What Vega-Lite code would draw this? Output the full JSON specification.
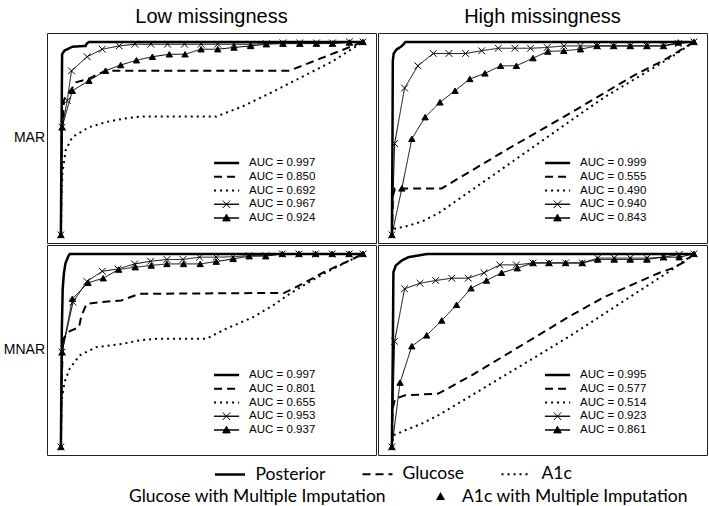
{
"$schema":"https://vega.github.io/schema/vega-lite/v6.json",
"padding":{"left":3,"top":7,"right":0,"bottom":0},
"data":{"values":[
{"c":"L","r":"MAR","s":"P","x":0,"y":0},{"c":"L","r":"MAR","s":"P","x":0.002,"y":0.5},{"c":"L","r":"MAR","s":"P","x":0.004,"y":0.936},{"c":"L","r":"MAR","s":"P","x":0.012,"y":0.955},{"c":"L","r":"MAR","s":"P","x":0.038,"y":0.975},{"c":"L","r":"MAR","s":"P","x":0.082,"y":0.979},{"c":"L","r":"MAR","s":"P","x":0.085,"y":0.99},{"c":"L","r":"MAR","s":"P","x":0.093,"y":1},{"c":"L","r":"MAR","s":"P","x":1,"y":1},
{"c":"L","r":"MAR","s":"G","x":0,"y":0},{"c":"L","r":"MAR","s":"G","x":0.003,"y":0.5},{"c":"L","r":"MAR","s":"G","x":0.01,"y":0.7},{"c":"L","r":"MAR","s":"G","x":0.05,"y":0.79},{"c":"L","r":"MAR","s":"G","x":0.093,"y":0.81},{"c":"L","r":"MAR","s":"G","x":0.148,"y":0.851},{"c":"L","r":"MAR","s":"G","x":0.757,"y":0.851},{"c":"L","r":"MAR","s":"G","x":1,"y":1},
{"c":"L","r":"MAR","s":"A","x":0,"y":0},{"c":"L","r":"MAR","s":"A","x":0.002,"y":0.2},{"c":"L","r":"MAR","s":"A","x":0.005,"y":0.32},{"c":"L","r":"MAR","s":"A","x":0.016,"y":0.44},{"c":"L","r":"MAR","s":"A","x":0.038,"y":0.507},{"c":"L","r":"MAR","s":"A","x":0.093,"y":0.558},{"c":"L","r":"MAR","s":"A","x":0.148,"y":0.584},{"c":"L","r":"MAR","s":"A","x":0.2,"y":0.6},{"c":"L","r":"MAR","s":"A","x":0.26,"y":0.613},{"c":"L","r":"MAR","s":"A","x":0.514,"y":0.613},{"c":"L","r":"MAR","s":"A","x":0.6,"y":0.665},{"c":"L","r":"MAR","s":"A","x":0.7,"y":0.74},{"c":"L","r":"MAR","s":"A","x":0.8,"y":0.82},{"c":"L","r":"MAR","s":"A","x":0.9,"y":0.9},{"c":"L","r":"MAR","s":"A","x":1,"y":1},
{"c":"L","r":"MAR","s":"GMI","x":0,"y":0},{"c":"L","r":"MAR","s":"GMI","x":0.004,"y":0.558},{"c":"L","r":"MAR","s":"GMI","x":0.021,"y":0.696},{"c":"L","r":"MAR","s":"GMI","x":0.035,"y":0.85},{"c":"L","r":"MAR","s":"GMI","x":0.087,"y":0.923},{"c":"L","r":"MAR","s":"GMI","x":0.137,"y":0.962},{"c":"L","r":"MAR","s":"GMI","x":0.193,"y":0.979},{"c":"L","r":"MAR","s":"GMI","x":0.245,"y":0.988},{"c":"L","r":"MAR","s":"GMI","x":0.298,"y":0.988},{"c":"L","r":"MAR","s":"GMI","x":0.353,"y":0.988},{"c":"L","r":"MAR","s":"GMI","x":0.409,"y":0.988},{"c":"L","r":"MAR","s":"GMI","x":0.464,"y":0.988},{"c":"L","r":"MAR","s":"GMI","x":0.519,"y":0.988},{"c":"L","r":"MAR","s":"GMI","x":0.573,"y":0.988},{"c":"L","r":"MAR","s":"GMI","x":0.628,"y":0.988},{"c":"L","r":"MAR","s":"GMI","x":0.68,"y":0.991},{"c":"L","r":"MAR","s":"GMI","x":0.735,"y":0.995},{"c":"L","r":"MAR","s":"GMI","x":0.791,"y":0.995},{"c":"L","r":"MAR","s":"GMI","x":0.846,"y":0.995},{"c":"L","r":"MAR","s":"GMI","x":0.899,"y":0.995},{"c":"L","r":"MAR","s":"GMI","x":0.955,"y":1},{"c":"L","r":"MAR","s":"GMI","x":1,"y":1},
{"c":"L","r":"MAR","s":"AMI","x":0,"y":0},{"c":"L","r":"MAR","s":"AMI","x":0.004,"y":0.558},{"c":"L","r":"MAR","s":"AMI","x":0.038,"y":0.747},{"c":"L","r":"MAR","s":"AMI","x":0.093,"y":0.799},{"c":"L","r":"MAR","s":"AMI","x":0.148,"y":0.851},{"c":"L","r":"MAR","s":"AMI","x":0.198,"y":0.88},{"c":"L","r":"MAR","s":"AMI","x":0.25,"y":0.905},{"c":"L","r":"MAR","s":"AMI","x":0.303,"y":0.923},{"c":"L","r":"MAR","s":"AMI","x":0.359,"y":0.936},{"c":"L","r":"MAR","s":"AMI","x":0.411,"y":0.936},{"c":"L","r":"MAR","s":"AMI","x":0.464,"y":0.962},{"c":"L","r":"MAR","s":"AMI","x":0.519,"y":0.962},{"c":"L","r":"MAR","s":"AMI","x":0.573,"y":0.971},{"c":"L","r":"MAR","s":"AMI","x":0.628,"y":0.979},{"c":"L","r":"MAR","s":"AMI","x":0.68,"y":0.988},{"c":"L","r":"MAR","s":"AMI","x":0.735,"y":0.991},{"c":"L","r":"MAR","s":"AMI","x":0.791,"y":0.991},{"c":"L","r":"MAR","s":"AMI","x":0.846,"y":0.991},{"c":"L","r":"MAR","s":"AMI","x":0.899,"y":0.991},{"c":"L","r":"MAR","s":"AMI","x":0.955,"y":0.997},{"c":"L","r":"MAR","s":"AMI","x":1,"y":1},

{"c":"H","r":"MAR","s":"P","x":0,"y":0},{"c":"H","r":"MAR","s":"P","x":0.002,"y":0.5},{"c":"H","r":"MAR","s":"P","x":0.003,"y":0.9},{"c":"H","r":"MAR","s":"P","x":0.006,"y":0.94},{"c":"H","r":"MAR","s":"P","x":0.015,"y":0.96},{"c":"H","r":"MAR","s":"P","x":0.03,"y":0.975},{"c":"H","r":"MAR","s":"P","x":0.04,"y":0.99},{"c":"H","r":"MAR","s":"P","x":0.045,"y":1},{"c":"H","r":"MAR","s":"P","x":1,"y":1},
{"c":"H","r":"MAR","s":"G","x":0,"y":0},{"c":"H","r":"MAR","s":"G","x":0.002,"y":0.1},{"c":"H","r":"MAR","s":"G","x":0.003,"y":0.2},{"c":"H","r":"MAR","s":"G","x":0.01,"y":0.241},{"c":"H","r":"MAR","s":"G","x":0.165,"y":0.241},{"c":"H","r":"MAR","s":"G","x":0.4,"y":0.46},{"c":"H","r":"MAR","s":"G","x":0.6,"y":0.64},{"c":"H","r":"MAR","s":"G","x":0.8,"y":0.825},{"c":"H","r":"MAR","s":"G","x":0.9,"y":0.905},{"c":"H","r":"MAR","s":"G","x":1,"y":1},
{"c":"H","r":"MAR","s":"A","x":0,"y":0},{"c":"H","r":"MAR","s":"A","x":0.011,"y":0.034},{"c":"H","r":"MAR","s":"A","x":0.044,"y":0.043},{"c":"H","r":"MAR","s":"A","x":0.099,"y":0.069},{"c":"H","r":"MAR","s":"A","x":0.154,"y":0.112},{"c":"H","r":"MAR","s":"A","x":0.264,"y":0.232},{"c":"H","r":"MAR","s":"A","x":0.374,"y":0.352},{"c":"H","r":"MAR","s":"A","x":0.484,"y":0.473},{"c":"H","r":"MAR","s":"A","x":0.593,"y":0.593},{"c":"H","r":"MAR","s":"A","x":0.703,"y":0.713},{"c":"H","r":"MAR","s":"A","x":0.813,"y":0.816},{"c":"H","r":"MAR","s":"A","x":0.923,"y":0.919},{"c":"H","r":"MAR","s":"A","x":1,"y":1},
{"c":"H","r":"MAR","s":"GMI","x":0,"y":0},{"c":"H","r":"MAR","s":"GMI","x":0.009,"y":0.473},{"c":"H","r":"MAR","s":"GMI","x":0.042,"y":0.761},{"c":"H","r":"MAR","s":"GMI","x":0.086,"y":0.876},{"c":"H","r":"MAR","s":"GMI","x":0.137,"y":0.94},{"c":"H","r":"MAR","s":"GMI","x":0.189,"y":0.94},{"c":"H","r":"MAR","s":"GMI","x":0.244,"y":0.94},{"c":"H","r":"MAR","s":"GMI","x":0.297,"y":0.954},{"c":"H","r":"MAR","s":"GMI","x":0.352,"y":0.967},{"c":"H","r":"MAR","s":"GMI","x":0.407,"y":0.967},{"c":"H","r":"MAR","s":"GMI","x":0.459,"y":0.967},{"c":"H","r":"MAR","s":"GMI","x":0.514,"y":0.971},{"c":"H","r":"MAR","s":"GMI","x":0.569,"y":0.979},{"c":"H","r":"MAR","s":"GMI","x":0.624,"y":0.979},{"c":"H","r":"MAR","s":"GMI","x":0.679,"y":0.979},{"c":"H","r":"MAR","s":"GMI","x":0.734,"y":0.979},{"c":"H","r":"MAR","s":"GMI","x":0.789,"y":0.979},{"c":"H","r":"MAR","s":"GMI","x":0.844,"y":0.979},{"c":"H","r":"MAR","s":"GMI","x":0.899,"y":0.979},{"c":"H","r":"MAR","s":"GMI","x":0.948,"y":0.991},{"c":"H","r":"MAR","s":"GMI","x":1,"y":1},
{"c":"H","r":"MAR","s":"AMI","x":0,"y":0},{"c":"H","r":"MAR","s":"AMI","x":0.033,"y":0.241},{"c":"H","r":"MAR","s":"AMI","x":0.066,"y":0.498},{"c":"H","r":"MAR","s":"AMI","x":0.11,"y":0.61},{"c":"H","r":"MAR","s":"AMI","x":0.159,"y":0.687},{"c":"H","r":"MAR","s":"AMI","x":0.209,"y":0.747},{"c":"H","r":"MAR","s":"AMI","x":0.258,"y":0.808},{"c":"H","r":"MAR","s":"AMI","x":0.308,"y":0.837},{"c":"H","r":"MAR","s":"AMI","x":0.36,"y":0.876},{"c":"H","r":"MAR","s":"AMI","x":0.412,"y":0.876},{"c":"H","r":"MAR","s":"AMI","x":0.467,"y":0.916},{"c":"H","r":"MAR","s":"AMI","x":0.516,"y":0.95},{"c":"H","r":"MAR","s":"AMI","x":0.569,"y":0.954},{"c":"H","r":"MAR","s":"AMI","x":0.624,"y":0.962},{"c":"H","r":"MAR","s":"AMI","x":0.679,"y":0.979},{"c":"H","r":"MAR","s":"AMI","x":0.734,"y":0.979},{"c":"H","r":"MAR","s":"AMI","x":0.789,"y":0.979},{"c":"H","r":"MAR","s":"AMI","x":0.844,"y":0.979},{"c":"H","r":"MAR","s":"AMI","x":0.899,"y":0.979},{"c":"H","r":"MAR","s":"AMI","x":0.948,"y":0.997},{"c":"H","r":"MAR","s":"AMI","x":1,"y":1},

{"c":"L","r":"MNAR","s":"P","x":0,"y":0},{"c":"L","r":"MNAR","s":"P","x":0.003,"y":0.6},{"c":"L","r":"MNAR","s":"P","x":0.006,"y":0.82},{"c":"L","r":"MNAR","s":"P","x":0.01,"y":0.9},{"c":"L","r":"MNAR","s":"P","x":0.015,"y":0.95},{"c":"L","r":"MNAR","s":"P","x":0.025,"y":0.99},{"c":"L","r":"MNAR","s":"P","x":0.03,"y":1},{"c":"L","r":"MNAR","s":"P","x":1,"y":1},
{"c":"L","r":"MNAR","s":"G","x":0,"y":0},{"c":"L","r":"MNAR","s":"G","x":0.002,"y":0.3},{"c":"L","r":"MNAR","s":"G","x":0.007,"y":0.56},{"c":"L","r":"MNAR","s":"G","x":0.03,"y":0.6},{"c":"L","r":"MNAR","s":"G","x":0.06,"y":0.62},{"c":"L","r":"MNAR","s":"G","x":0.068,"y":0.68},{"c":"L","r":"MNAR","s":"G","x":0.085,"y":0.741},{"c":"L","r":"MNAR","s":"G","x":0.13,"y":0.75},{"c":"L","r":"MNAR","s":"G","x":0.2,"y":0.759},{"c":"L","r":"MNAR","s":"G","x":0.26,"y":0.793},{"c":"L","r":"MNAR","s":"G","x":0.74,"y":0.798},{"c":"L","r":"MNAR","s":"G","x":0.77,"y":0.822},{"c":"L","r":"MNAR","s":"G","x":0.81,"y":0.853},{"c":"L","r":"MNAR","s":"G","x":0.87,"y":0.905},{"c":"L","r":"MNAR","s":"G","x":0.956,"y":0.966},{"c":"L","r":"MNAR","s":"G","x":1,"y":1},
{"c":"L","r":"MNAR","s":"A","x":0,"y":0},{"c":"L","r":"MNAR","s":"A","x":0.002,"y":0.233},{"c":"L","r":"MNAR","s":"A","x":0.012,"y":0.336},{"c":"L","r":"MNAR","s":"A","x":0.029,"y":0.405},{"c":"L","r":"MNAR","s":"A","x":0.062,"y":0.474},{"c":"L","r":"MNAR","s":"A","x":0.117,"y":0.517},{"c":"L","r":"MNAR","s":"A","x":0.205,"y":0.534},{"c":"L","r":"MNAR","s":"A","x":0.26,"y":0.552},{"c":"L","r":"MNAR","s":"A","x":0.316,"y":0.56},{"c":"L","r":"MNAR","s":"A","x":0.481,"y":0.56},{"c":"L","r":"MNAR","s":"A","x":0.547,"y":0.612},{"c":"L","r":"MNAR","s":"A","x":0.636,"y":0.672},{"c":"L","r":"MNAR","s":"A","x":0.702,"y":0.733},{"c":"L","r":"MNAR","s":"A","x":0.757,"y":0.793},{"c":"L","r":"MNAR","s":"A","x":0.812,"y":0.845},{"c":"L","r":"MNAR","s":"A","x":0.879,"y":0.905},{"c":"L","r":"MNAR","s":"A","x":0.945,"y":0.957},{"c":"L","r":"MNAR","s":"A","x":1,"y":1},
{"c":"L","r":"MNAR","s":"GMI","x":0,"y":0},{"c":"L","r":"MNAR","s":"GMI","x":0.004,"y":0.491},{"c":"L","r":"MNAR","s":"GMI","x":0.04,"y":0.75},{"c":"L","r":"MNAR","s":"GMI","x":0.086,"y":0.857},{"c":"L","r":"MNAR","s":"GMI","x":0.137,"y":0.91},{"c":"L","r":"MNAR","s":"GMI","x":0.189,"y":0.922},{"c":"L","r":"MNAR","s":"GMI","x":0.244,"y":0.948},{"c":"L","r":"MNAR","s":"GMI","x":0.297,"y":0.962},{"c":"L","r":"MNAR","s":"GMI","x":0.351,"y":0.971},{"c":"L","r":"MNAR","s":"GMI","x":0.404,"y":0.971},{"c":"L","r":"MNAR","s":"GMI","x":0.459,"y":0.983},{"c":"L","r":"MNAR","s":"GMI","x":0.514,"y":0.983},{"c":"L","r":"MNAR","s":"GMI","x":0.57,"y":0.985},{"c":"L","r":"MNAR","s":"GMI","x":0.623,"y":0.991},{"c":"L","r":"MNAR","s":"GMI","x":0.678,"y":0.991},{"c":"L","r":"MNAR","s":"GMI","x":0.733,"y":1},{"c":"L","r":"MNAR","s":"GMI","x":0.788,"y":1},{"c":"L","r":"MNAR","s":"GMI","x":0.843,"y":1},{"c":"L","r":"MNAR","s":"GMI","x":0.898,"y":1},{"c":"L","r":"MNAR","s":"GMI","x":0.954,"y":1},{"c":"L","r":"MNAR","s":"GMI","x":1,"y":1},
{"c":"L","r":"MNAR","s":"AMI","x":0,"y":0},{"c":"L","r":"MNAR","s":"AMI","x":0.004,"y":0.491},{"c":"L","r":"MNAR","s":"AMI","x":0.038,"y":0.767},{"c":"L","r":"MNAR","s":"AMI","x":0.09,"y":0.85},{"c":"L","r":"MNAR","s":"AMI","x":0.14,"y":0.874},{"c":"L","r":"MNAR","s":"AMI","x":0.191,"y":0.919},{"c":"L","r":"MNAR","s":"AMI","x":0.246,"y":0.931},{"c":"L","r":"MNAR","s":"AMI","x":0.299,"y":0.94},{"c":"L","r":"MNAR","s":"AMI","x":0.351,"y":0.948},{"c":"L","r":"MNAR","s":"AMI","x":0.406,"y":0.948},{"c":"L","r":"MNAR","s":"AMI","x":0.461,"y":0.948},{"c":"L","r":"MNAR","s":"AMI","x":0.514,"y":0.96},{"c":"L","r":"MNAR","s":"AMI","x":0.57,"y":0.974},{"c":"L","r":"MNAR","s":"AMI","x":0.623,"y":0.988},{"c":"L","r":"MNAR","s":"AMI","x":0.678,"y":0.988},{"c":"L","r":"MNAR","s":"AMI","x":0.733,"y":1},{"c":"L","r":"MNAR","s":"AMI","x":0.788,"y":1},{"c":"L","r":"MNAR","s":"AMI","x":0.843,"y":1},{"c":"L","r":"MNAR","s":"AMI","x":0.898,"y":1},{"c":"L","r":"MNAR","s":"AMI","x":0.954,"y":1},{"c":"L","r":"MNAR","s":"AMI","x":1,"y":1},

{"c":"H","r":"MNAR","s":"P","x":0,"y":0},{"c":"H","r":"MNAR","s":"P","x":0.003,"y":0.5},{"c":"H","r":"MNAR","s":"P","x":0.005,"y":0.905},{"c":"H","r":"MNAR","s":"P","x":0.013,"y":0.94},{"c":"H","r":"MNAR","s":"P","x":0.033,"y":0.966},{"c":"H","r":"MNAR","s":"P","x":0.055,"y":0.983},{"c":"H","r":"MNAR","s":"P","x":0.1,"y":0.995},{"c":"H","r":"MNAR","s":"P","x":0.12,"y":1},{"c":"H","r":"MNAR","s":"P","x":1,"y":1},
{"c":"H","r":"MNAR","s":"G","x":0,"y":0},{"c":"H","r":"MNAR","s":"G","x":0.002,"y":0.198},{"c":"H","r":"MNAR","s":"G","x":0.011,"y":0.25},{"c":"H","r":"MNAR","s":"G","x":0.044,"y":0.267},{"c":"H","r":"MNAR","s":"G","x":0.154,"y":0.276},{"c":"H","r":"MNAR","s":"G","x":0.264,"y":0.371},{"c":"H","r":"MNAR","s":"G","x":0.374,"y":0.474},{"c":"H","r":"MNAR","s":"G","x":0.484,"y":0.578},{"c":"H","r":"MNAR","s":"G","x":0.593,"y":0.681},{"c":"H","r":"MNAR","s":"G","x":0.703,"y":0.776},{"c":"H","r":"MNAR","s":"G","x":0.813,"y":0.853},{"c":"H","r":"MNAR","s":"G","x":0.89,"y":0.905},{"c":"H","r":"MNAR","s":"G","x":0.923,"y":0.922},{"c":"H","r":"MNAR","s":"G","x":0.967,"y":0.957},{"c":"H","r":"MNAR","s":"G","x":1,"y":1},
{"c":"H","r":"MNAR","s":"A","x":0,"y":0},{"c":"H","r":"MNAR","s":"A","x":0.005,"y":0.06},{"c":"H","r":"MNAR","s":"A","x":0.044,"y":0.086},{"c":"H","r":"MNAR","s":"A","x":0.099,"y":0.121},{"c":"H","r":"MNAR","s":"A","x":0.154,"y":0.164},{"c":"H","r":"MNAR","s":"A","x":0.264,"y":0.267},{"c":"H","r":"MNAR","s":"A","x":0.374,"y":0.371},{"c":"H","r":"MNAR","s":"A","x":0.484,"y":0.474},{"c":"H","r":"MNAR","s":"A","x":0.593,"y":0.578},{"c":"H","r":"MNAR","s":"A","x":0.703,"y":0.69},{"c":"H","r":"MNAR","s":"A","x":0.813,"y":0.802},{"c":"H","r":"MNAR","s":"A","x":0.923,"y":0.914},{"c":"H","r":"MNAR","s":"A","x":1,"y":1},
{"c":"H","r":"MNAR","s":"GMI","x":0,"y":0},{"c":"H","r":"MNAR","s":"GMI","x":0.009,"y":0.547},{"c":"H","r":"MNAR","s":"GMI","x":0.042,"y":0.819},{"c":"H","r":"MNAR","s":"GMI","x":0.093,"y":0.848},{"c":"H","r":"MNAR","s":"GMI","x":0.145,"y":0.862},{"c":"H","r":"MNAR","s":"GMI","x":0.198,"y":0.874},{"c":"H","r":"MNAR","s":"GMI","x":0.253,"y":0.874},{"c":"H","r":"MNAR","s":"GMI","x":0.305,"y":0.902},{"c":"H","r":"MNAR","s":"GMI","x":0.357,"y":0.943},{"c":"H","r":"MNAR","s":"GMI","x":0.412,"y":0.943},{"c":"H","r":"MNAR","s":"GMI","x":0.467,"y":0.953},{"c":"H","r":"MNAR","s":"GMI","x":0.52,"y":0.953},{"c":"H","r":"MNAR","s":"GMI","x":0.575,"y":0.953},{"c":"H","r":"MNAR","s":"GMI","x":0.63,"y":0.953},{"c":"H","r":"MNAR","s":"GMI","x":0.681,"y":0.978},{"c":"H","r":"MNAR","s":"GMI","x":0.736,"y":0.978},{"c":"H","r":"MNAR","s":"GMI","x":0.789,"y":0.978},{"c":"H","r":"MNAR","s":"GMI","x":0.844,"y":0.978},{"c":"H","r":"MNAR","s":"GMI","x":0.899,"y":0.983},{"c":"H","r":"MNAR","s":"GMI","x":0.951,"y":0.997},{"c":"H","r":"MNAR","s":"GMI","x":1,"y":1},
{"c":"H","r":"MNAR","s":"AMI","x":0,"y":0},{"c":"H","r":"MNAR","s":"AMI","x":0.027,"y":0.333},{"c":"H","r":"MNAR","s":"AMI","x":0.066,"y":0.522},{"c":"H","r":"MNAR","s":"AMI","x":0.115,"y":0.578},{"c":"H","r":"MNAR","s":"AMI","x":0.165,"y":0.655},{"c":"H","r":"MNAR","s":"AMI","x":0.214,"y":0.736},{"c":"H","r":"MNAR","s":"AMI","x":0.262,"y":0.822},{"c":"H","r":"MNAR","s":"AMI","x":0.313,"y":0.862},{"c":"H","r":"MNAR","s":"AMI","x":0.363,"y":0.902},{"c":"H","r":"MNAR","s":"AMI","x":0.415,"y":0.926},{"c":"H","r":"MNAR","s":"AMI","x":0.467,"y":0.953},{"c":"H","r":"MNAR","s":"AMI","x":0.52,"y":0.953},{"c":"H","r":"MNAR","s":"AMI","x":0.575,"y":0.953},{"c":"H","r":"MNAR","s":"AMI","x":0.63,"y":0.953},{"c":"H","r":"MNAR","s":"AMI","x":0.681,"y":0.971},{"c":"H","r":"MNAR","s":"AMI","x":0.736,"y":0.971},{"c":"H","r":"MNAR","s":"AMI","x":0.789,"y":0.971},{"c":"H","r":"MNAR","s":"AMI","x":0.844,"y":0.971},{"c":"H","r":"MNAR","s":"AMI","x":0.899,"y":0.983},{"c":"H","r":"MNAR","s":"AMI","x":0.951,"y":0.983},{"c":"H","r":"MNAR","s":"AMI","x":1,"y":1},

{"c":"L","r":"MAR","s":"P","auc":0.997},{"c":"L","r":"MAR","s":"G","auc":0.850},{"c":"L","r":"MAR","s":"A","auc":0.692},{"c":"L","r":"MAR","s":"GMI","auc":0.967},{"c":"L","r":"MAR","s":"AMI","auc":0.924},
{"c":"H","r":"MAR","s":"P","auc":0.999},{"c":"H","r":"MAR","s":"G","auc":0.555},{"c":"H","r":"MAR","s":"A","auc":0.490},{"c":"H","r":"MAR","s":"GMI","auc":0.940},{"c":"H","r":"MAR","s":"AMI","auc":0.843},
{"c":"L","r":"MNAR","s":"P","auc":0.997},{"c":"L","r":"MNAR","s":"G","auc":0.801},{"c":"L","r":"MNAR","s":"A","auc":0.655},{"c":"L","r":"MNAR","s":"GMI","auc":0.953},{"c":"L","r":"MNAR","s":"AMI","auc":0.937},
{"c":"H","r":"MNAR","s":"P","auc":0.995},{"c":"H","r":"MNAR","s":"G","auc":0.577},{"c":"H","r":"MNAR","s":"A","auc":0.514},{"c":"H","r":"MNAR","s":"GMI","auc":0.923},{"c":"H","r":"MNAR","s":"AMI","auc":0.861}
]},
"facet":{
 "column":{"field":"c","type":"nominal","sort":["L","H"],"header":{"title":null,"labelExpr":"datum.value == 'L' ? 'Low missingness' : 'High missingness'","labelFont":"Liberation Sans","labelFontSize":20,"labelColor":"black","labelPadding":5}},
 "row":{"field":"r","type":"nominal","sort":["MAR","MNAR"],"header":{"title":null,"labelAngle":0,"labelAlign":"left","labelFont":"Liberation Sans","labelFontSize":14,"labelColor":"black","labelPadding":1}}
},
"spacing":0,
"spec":{
 "width":329,"height":210,
 "layer":[
  {"layer":[
   {"transform":[{"filter":{"field":"x","valid":true}}],
    "mark":{"type":"line","color":"black","strokeCap":"butt"},
    "encoding":{
     "x":{"field":"x","type":"quantitative","scale":{"domain":[-0.046,1.043],"nice":false,"zero":false},"axis":null},
     "y":{"field":"y","type":"quantitative","scale":{"domain":[-0.042,1.046],"nice":false,"zero":false},"axis":null},
     "detail":{"field":"s"},
     "strokeDash":{"field":"s","type":"nominal","scale":{"domain":["P","G","A","GMI","AMI"],"range":[[1,0],[8,5],[2,4],[1,0],[1,0]]},
       "legend":{"title":" ","titleOrient":"left","titleFontSize":1,"titlePadding":80,"orient":"bottom","direction":"horizontal","values":["P","G","A"],"labelExpr":"datum.label == 'P' ? 'Posterior' : datum.label == 'G' ? 'Glucose' : 'A1c'","symbolType":"M-1.5,0H1.5","symbolSize":400,"symbolStrokeWidth":2,"symbolStrokeColor":"black","labelFont":"Lato","labelFontSize":17.5,"labelColor":"black","labelOffset":14,"labelLimit":0,"columnPadding":33,"offset":7}},
     "strokeWidth":{"field":"s","type":"nominal","scale":{"type":"ordinal","domain":["P","G","A","GMI","AMI"],"range":[2.5,2,2,1,1]},"legend":null}
    }},
   {"transform":[{"filter":{"field":"x","valid":true}},{"filter":{"field":"s","equal":"GMI"}}],
    "mark":{"type":"point","shape":"M-1,-1L1,1M-1,1L1,-1","filled":false,"stroke":"black","strokeWidth":1,"size":45,"opacity":1},
    "encoding":{"x":{"field":"x","type":"quantitative"},"y":{"field":"y","type":"quantitative"}}},
   {"transform":[{"filter":{"field":"x","valid":true}},{"filter":{"field":"s","equal":"AMI"}}],
    "mark":{"type":"point","shape":"triangle-up","filled":true,"fill":"black","stroke":"black","strokeWidth":1,"size":40,"opacity":1},
    "encoding":{"x":{"field":"x","type":"quantitative"},"y":{"field":"y","type":"quantitative"}}}
  ]},
  {"layer":[
   {"transform":[{"filter":{"field":"auc","valid":true}}],
    "mark":{"type":"rule","color":"black","strokeCap":"butt"},
    "encoding":{
     "x":{"datum":0.507},"x2":{"datum":0.59},
     "y":{"field":"s","type":"nominal","scale":{"type":"point","domain":["P","G","A","GMI","AMI"],"range":[130,185],"padding":0},"axis":null},
     "strokeDash":{"field":"s","type":"nominal","legend":null},
     "strokeWidth":{"field":"s","type":"nominal","scale":{"type":"ordinal","domain":["P","G","A","GMI","AMI"],"range":[2.5,2,2,1,1]},"legend":null}
    }},
   {"transform":[{"filter":{"field":"auc","valid":true}},{"filter":{"field":"s","oneOf":["GMI","AMI"]}}],
    "mark":{"type":"point","filled":false,"fill":"black","stroke":"black","strokeWidth":1,"size":278,"opacity":1},
    "encoding":{
     "x":{"datum":0.548},
     "y":{"field":"s","type":"nominal"},
     "shape":{"field":"s","type":"nominal","scale":{"domain":["GMI","AMI"],"range":["M-1.5,0H1.5M-0.45,-0.45L0.45,0.45M-0.45,0.45L0.45,-0.45","M-1.5,0H1.5M0,-0.45L0.45,0.35L-0.45,0.35Z"]},
      "legend":{"title":" ","titleOrient":"left","titleFontSize":1,"titlePadding":74,"orient":"bottom","direction":"horizontal","labelExpr":"datum.label == 'GMI' ? 'Glucose with Multiple Imputation' : 'A1c with Multiple Imputation'","symbolSize":400,"symbolStrokeWidth":1,"symbolStrokeColor":"black","symbolFillColor":"black","labelFont":"Lato","labelFontSize":17.5,"labelColor":"black","labelOffset":11,"labelLimit":0,"columnPadding":37,"offset":7}}
    }},
   {"transform":[{"filter":{"field":"auc","valid":true}},{"calculate":"'AUC = ' + format(datum.auc, '.3f')","as":"label"}],
    "mark":{"type":"text","align":"left","baseline":"middle","font":"Liberation Sans","fontSize":11.5,"color":"black"},
    "encoding":{
     "x":{"datum":0.623},
     "y":{"field":"s","type":"nominal"},
     "text":{"field":"label"}
    }}
  ]}
 ],
 "resolve":{"scale":{"y":"independent"}}
},
"config":{
 "view":{"stroke":"#222","strokeWidth":1},
 "legend":{"layout":{"bottom":{"anchor":"middle","direction":"vertical","center":true,"margin":3}}}
}
}
